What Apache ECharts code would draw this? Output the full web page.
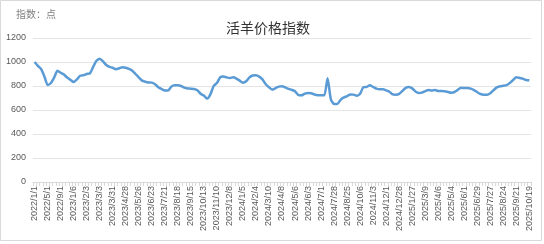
<!DOCTYPE html>
<html><head><meta charset="utf-8">
<script src="https://cdn.jsdelivr.net/npm/echarts@6/dist/echarts.min.js"></script>
<style>html,body{margin:0;padding:0;background:#fff}#c{width:544px;height:244px}</style>
</head><body><div id="c"></div>
<script>
const categories = [
"2022/1/1","2022/2/1","2022/3/1","2022/4/1","2022/5/1","2022/6/1","2022/7/1","2022/8/1","2022/9/1","2022/10/1","2022/11/1","2022/12/1",
"2023/1/6","2023/1/13","2023/1/20","2023/1/27","2023/2/3","2023/2/10","2023/2/17","2023/2/24","2023/3/3","2023/3/10","2023/3/17","2023/3/24","2023/3/31","2023/4/7","2023/4/14","2023/4/21","2023/4/28","2023/5/5","2023/5/12","2023/5/19","2023/5/26","2023/6/2","2023/6/9","2023/6/16","2023/6/23","2023/6/30","2023/7/7","2023/7/14","2023/7/21","2023/7/28","2023/8/4","2023/8/11","2023/8/18","2023/8/25","2023/9/1","2023/9/8","2023/9/15","2023/9/22","2023/9/29","2023/10/6","2023/10/13","2023/10/20","2023/10/27","2023/11/3","2023/11/10","2023/11/17","2023/11/24","2023/12/1","2023/12/8","2023/12/15","2023/12/22","2023/12/29",
"2024/1/5","2024/1/12","2024/1/19","2024/1/26","2024/2/4","2024/2/18","2024/2/25","2024/3/3","2024/3/10","2024/3/17","2024/3/24","2024/3/31","2024/4/8","2024/4/15","2024/4/22","2024/4/29","2024/5/6","2024/5/13","2024/5/20","2024/5/27","2024/6/3","2024/6/10","2024/6/17","2024/6/24","2024/7/1","2024/7/8","2024/7/15","2024/7/22","2024/7/28","2024/8/4","2024/8/11","2024/8/18","2024/8/25","2024/9/8","2024/9/22","2024/9/29","2024/10/6","2024/10/13","2024/10/20","2024/10/27","2024/11/3","2024/11/10","2024/11/17","2024/11/24","2024/12/1","2024/12/8","2024/12/15","2024/12/22","2024/12/28",
"2025/1/5","2025/1/12","2025/1/19","2025/1/27","2025/2/16","2025/2/23","2025/3/2","2025/3/9","2025/3/16","2025/3/23","2025/3/30","2025/4/6","2025/4/13","2025/4/20","2025/4/27","2025/5/4","2025/5/11","2025/5/18","2025/5/25","2025/6/1","2025/6/8","2025/6/15","2025/6/22","2025/6/29","2025/7/6","2025/7/13","2025/7/20","2025/7/27","2025/8/3","2025/8/10","2025/8/17","2025/8/24","2025/8/31","2025/9/7","2025/9/14","2025/9/21","2025/9/28","2025/10/5","2025/10/12","2025/10/19"
];
const indexValues = [
1000,968,940,880,808,825,870,928,910,895,870,852,
833,855,885,890,900,905,960,1010,1028,1005,975,960,952,940,948,957,952,942,928,900,872,845,836,830,828,815,
790,775,762,762,795,806,806,800,786,780,778,775,765,735,720,695,730,800,825,872,880,872,867,873,862,845,828,840,872,888,890,878,855,815,790,770,782,795,
798,788,776,768,757,725,722,736,742,739,729,723,722,722,865,690,650,650,685,705,715,730,728,718,735,790,792,806,792,778,772,772,764,752,730,728,735,760,
785,792,780,755,742,745,757,767,762,767,758,758,756,750,744,750,768,785,783,783,778,766,748,733,728,728,740,765,788,798,802,808,825,850,872,867,861,850,847
];
const yTicks = [0, 200, 400, 600, 800, 1000, 1200];
const titleText = "活羊价格指数";
const unitText = "指数：点";

const chart = echarts.init(document.getElementById('c'), null, {renderer: 'canvas'});
chart.setOption({
  animation: false,
  backgroundColor: '#fff',
  title: {
    text: titleText, left: 263, top: 16, textAlign: 'center',
    textStyle: {fontFamily: 'Noto Sans CJK SC', fontSize: 14, fontWeight: 'normal', color: '#333333'}
  },
  graphic: [
    {type: 'rect', shape: {x: 0.5, y: 0.5, width: 541, height: 240}, style: {fill: 'none', stroke: '#d9d9d9', lineWidth: 1}, silent: true},
    {type: 'text', left: 16, top: 9, style: {text: unitText, fontFamily: 'Noto Sans CJK SC', fontSize: 10, fill: '#7f7f7f'}}
  ],
  grid: {left: 33, right: 13, top: 38, bottom: 62, containLabel: false},
  xAxis: {
    type: 'category', data: categories, boundaryGap: true,
    axisLine: {lineStyle: {color: '#d9d9d9'}},
    axisTick: {show: true, interval: 0, length: 4, lineStyle: {color: '#d9d9d9'}},
    axisLabel: {interval: 3, rotate: 90, fontSize: 9, color: '#595959', margin: 4, fontFamily: 'Liberation Sans'}
  },
  yAxis: {
    type: 'value', min: yTicks[0], max: yTicks[yTicks.length - 1], interval: 200,
    axisLine: {show: false}, axisTick: {show: false},
    axisLabel: {fontSize: 9, color: '#595959', margin: 7, fontFamily: 'Liberation Sans', formatter: v => String(v)},
    splitLine: {lineStyle: {color: '#e5e5e5'}}
  },
  series: [{
    type: 'line', data: indexValues, showSymbol: false, smooth: 0.2,
    lineStyle: {color: '#5b9bd5', width: 2.5}, itemStyle: {color: '#5b9bd5'}
  }]
});
</script></body></html>
